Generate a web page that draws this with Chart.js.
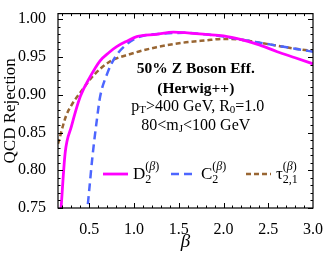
<!DOCTYPE html>
<html>
<head>
<meta charset="utf-8">
<script src="https://cdn.jsdelivr.net/npm/chart.js@4"></script>
<style>
  html, body { margin: 0; padding: 0; background: #fff; }
  #wrap { width: 327px; height: 253px; }
</style>
</head>
<body>
<div id="wrap"><canvas id="rejChart" width="327" height="253"></canvas></div>
<script>
// values
const d2Beta = [0.18, 0.23, 0.30, 0.40, 0.51, 0.62, 0.72, 0.81, 0.92, 1.03, 1.25, 1.44, 1.60, 1.80, 2.00, 2.20, 2.40, 2.60, 2.80, 3.00];
const d2Rej  = [0.742, 0.823, 0.858, 0.898, 0.924, 0.945, 0.956, 0.964, 0.971, 0.977, 0.980, 0.983, 0.982, 0.980, 0.978, 0.973, 0.966, 0.957, 0.949, 0.941];

const c2Beta = [0.47, 0.50, 0.535, 0.59, 0.62, 0.70, 0.79, 0.92, 1.07, 1.33, 1.55, 1.80, 2.00, 2.20, 2.40, 2.60, 2.80, 3.00];
const c2Rej  = [0.738, 0.775, 0.818, 0.872, 0.897, 0.928, 0.950, 0.967, 0.977, 0.981, 0.982, 0.980, 0.977, 0.973, 0.969, 0.965, 0.961, 0.957];

const tauBeta = [0.15, 0.24, 0.30, 0.40, 0.55, 0.73, 0.96, 1.25, 1.55, 1.80, 2.00, 2.20, 2.40, 2.60, 2.80, 3.00];
const tauRej  = [0.835, 0.872, 0.886, 0.903, 0.926, 0.944, 0.954, 0.963, 0.969, 0.972, 0.974, 0.973, 0.969, 0.965, 0.961, 0.958];

const xTicks = [0.5, 1.0, 1.5, 2.0, 2.5, 3.0];
const yTicks = [0.75, 0.80, 0.85, 0.90, 0.95, 1.00];

const SERIF = '"Liberation Serif", "DejaVu Serif", serif';
const MAGENTA = '#ff00ff';
const BLUE = '#4d66ff';
const BROWN = '#996633';

function pts(xs, ys) {
  return xs.map((x, i) => ({ x: x, y: ys[i] }));
}

// frame with inward ticks on all four sides
const framePlugin = {
  id: 'frame',
  afterDatasetsDraw(chart) {
    const ctx = chart.ctx;
    const a = chart.chartArea;
    const xs = chart.scales.x, ys = chart.scales.y;
    ctx.save();
    ctx.strokeStyle = '#000';
    ctx.lineWidth = 1;
    ctx.beginPath();
    for (let v = 0.2; v < 3.0001; v += 0.1) {
      const major = Math.abs(v * 2 - Math.round(v * 2)) < 1e-6;
      const len = major ? 5 : 2.5;
      const px = Math.round(xs.getPixelForValue(v)) + 0.5;
      if (px < a.left || px > a.right) continue;
      ctx.moveTo(px, a.bottom); ctx.lineTo(px, a.bottom - len);
      ctx.moveTo(px, a.top); ctx.lineTo(px, a.top + len);
    }
    for (let v = 0.75; v < 1.0076; v += 0.01) {
      const major = Math.abs(v * 20 - Math.round(v * 20)) < 1e-6;
      const len = major ? 5 : 2.5;
      const py = Math.round(ys.getPixelForValue(v)) + 0.5;
      ctx.moveTo(a.left, py); ctx.lineTo(a.left + len, py);
      ctx.moveTo(a.right, py); ctx.lineTo(a.right - len, py);
    }
    ctx.stroke();
    ctx.lineWidth = 1.2;
    ctx.strokeRect(a.left, a.top, a.right - a.left, a.bottom - a.top);
    ctx.restore();
  }
};

// text block and legend inside the plot
const labelPlugin = {
  id: 'labels',
  afterDatasetsDraw(chart) {
    const ctx = chart.ctx;
    const a = chart.chartArea;
    const xs = chart.scales.x, ys = chart.scales.y;
    ctx.save();
    ctx.fillStyle = '#000';
    ctx.textAlign = 'center';
    ctx.textBaseline = 'middle';
    const cx = xs.getPixelForValue(1.69);
    ctx.font = 'bold 15.5px ' + SERIF;
    ctx.fillText('50% Z Boson Eff.', cx, ys.getPixelForValue(0.9335));
    ctx.fillText('(Herwig++)', cx, ys.getPixelForValue(0.907));

    // p_T>400 GeV, R_0=1.0
    function richLine(parts, centerX, y) {
      let w = 0;
      parts.forEach(p => { ctx.font = p.font; w += ctx.measureText(p.t).width; });
      let x = centerX - w / 2;
      ctx.textAlign = 'left';
      parts.forEach(p => {
        ctx.font = p.font;
        ctx.fillText(p.t, x, y + (p.dy || 0));
        x += ctx.measureText(p.t).width;
      });
      ctx.textAlign = 'center';
    }
    const N = '16px ' + SERIF, S = '11px ' + SERIF;
    richLine([
      { t: 'p', font: N }, { t: 'T', font: S, dy: 3 },
      { t: '>400 GeV, R', font: N }, { t: '0', font: S, dy: 3 },
      { t: '=1.0', font: N }
    ], cx + 2, ys.getPixelForValue(0.884));
    richLine([
      { t: '80<m', font: N }, { t: 'J', font: S, dy: 3 },
      { t: '<100 GeV', font: N }
    ], cx, ys.getPixelForValue(0.859));

    // legend
    const ly = ys.getPixelForValue(0.795);
    const items = [
      { ds: 0, x0: a.left + 45, main: 'D', sub: '2' },
      { ds: 1, x0: a.left + 113, main: 'C', sub: '2' },
      { ds: 2, x0: a.left + 188, main: '\u03c4', sub: '2,1' }
    ];
    items.forEach(it => {
      const ds = chart.data.datasets[it.ds];
      ctx.save();
      ctx.strokeStyle = ds.borderColor;
      ctx.lineWidth = ds.borderWidth;
      ctx.setLineDash(ds.borderDash || []);
      ctx.beginPath();
      ctx.moveTo(it.x0, ly);
      ctx.lineTo(it.x0 + 25, ly);
      ctx.stroke();
      ctx.restore();
      ctx.textAlign = 'left';
      let tx = it.x0 + 30;
      ctx.font = '17px ' + SERIF;
      ctx.fillText(it.main, tx, ly + 1);
      tx += ctx.measureText(it.main).width;
      ctx.font = '12px ' + SERIF;
      ctx.fillText(it.sub, tx, ly + 6);
      ctx.fillText('(', tx, ly - 7);
      let sx = tx + ctx.measureText('(').width;
      ctx.font = 'italic 12px ' + SERIF;
      ctx.fillText('\u03b2', sx, ly - 7);
      sx += ctx.measureText('\u03b2').width;
      ctx.font = '12px ' + SERIF;
      ctx.fillText(')', sx, ly - 7);
    });
    ctx.restore();
  }
};

const rejCanvas = document.getElementById('rejChart');

const rejChart = new Chart(rejCanvas, {
  type: 'line',
  data: {
    datasets: [
      {
        label: 'D2',
        data: pts(d2Beta, d2Rej),
        borderColor: MAGENTA,
        borderWidth: 2.8,
        pointRadius: 0,
        cubicInterpolationMode: 'monotone',
        clip: 0
      },
      {
        label: 'C2',
        data: pts(c2Beta, c2Rej),
        borderColor: BLUE,
        borderWidth: 2.5,
        borderDash: [8, 5],
        pointRadius: 0,
        cubicInterpolationMode: 'monotone',
        clip: 0
      },
      {
        label: 'tau21',
        data: pts(tauBeta, tauRej),
        borderColor: BROWN,
        borderWidth: 2.5,
        borderDash: [5, 3],
        pointRadius: 0,
        cubicInterpolationMode: 'monotone',
        clip: 0
      }
    ]
  },
  options: {
    responsive: false,
    animation: false,
    layout: { padding: { top: 1, right: 10, left: 0, bottom: 0 } },
    plugins: {
      legend: { display: false },
      tooltip: { enabled: false }
    },
    scales: {
      x: {
        type: 'linear',
        min: 0.15,
        max: 3.0,
        grid: { display: false },
        border: { display: false },
        afterBuildTicks: s => { s.ticks = xTicks.map(v => ({ value: v })); },
        afterFit: s => { s.height = 45; },
        ticks: {
          color: '#000',
          padding: 4,
          maxRotation: 0,
          font: { family: SERIF, size: 16 },
          callback: v => v.toFixed(1)
        },
        title: {
          display: true,
          text: '\u03b2',
          color: '#000',
          padding: { top: 0, bottom: 0 },
          font: { family: SERIF, size: 19, style: 'italic' }
        }
      },
      y: {
        min: 0.75,
        max: 1.0075,
        grid: { display: false },
        border: { display: false },
        afterBuildTicks: s => { s.ticks = yTicks.map(v => ({ value: v })); },
        afterFit: s => { s.width = 58; },
        ticks: {
          color: '#000',
          padding: 4,
          font: { family: SERIF, size: 16 },
          callback: v => v.toFixed(2)
        },
        title: {
          display: true,
          text: 'QCD Rejection',
          color: '#000',
          padding: { top: 0, bottom: 0 },
          font: { family: SERIF, size: 17 }
        }
      }
    }
  },
  plugins: [framePlugin, labelPlugin]
});
</script>
</body>
</html>
